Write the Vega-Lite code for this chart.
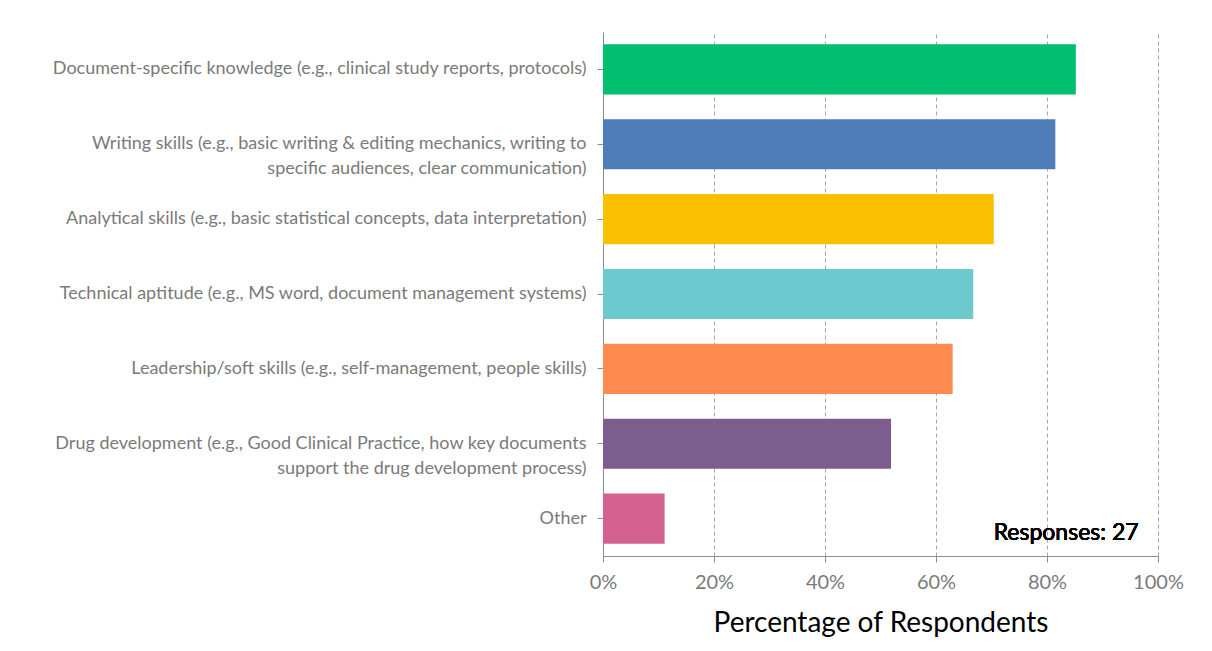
{
  "$schema": "https://vega.github.io/schema/vega-lite/v6.json",
  "autosize": {"type": "none"},
  "padding": {"left": 603, "top": 32, "right": 54, "bottom": 95},
  "width": 555,
  "height": 524,
  "background": "white",
  "config": {
    "font": "Lato",
    "view": {"stroke": null}
  },
  "data": {
    "values": [
      {"skill": "Document-specific knowledge (e.g., clinical study reports, protocols)", "pct": 0.852, "color": "#00BF6F"},
      {"skill": "Writing skills (e.g., basic writing & editing mechanics, writing to specific audiences, clear communication)", "pct": 0.815, "color": "#4F7DB7"},
      {"skill": "Analytical skills (e.g., basic statistical concepts, data interpretation)", "pct": 0.704, "color": "#F9BF00"},
      {"skill": "Technical aptitude (e.g., MS word, document management systems)", "pct": 0.667, "color": "#6CC9CD"},
      {"skill": "Leadership/soft skills (e.g., self-management, people skills)", "pct": 0.630, "color": "#FF8A50"},
      {"skill": "Drug development (e.g., Good Clinical Practice, how key documents support the drug development process)", "pct": 0.519, "color": "#7D5C8E"},
      {"skill": "Other", "pct": 0.111, "color": "#D4608E"}
    ]
  },
  "layer": [
    {
      "mark": {"type": "bar"},
      "encoding": {
        "y": {
          "field": "skill",
          "type": "nominal",
          "sort": null,
          "scale": {"paddingInner": 0.33, "paddingOuter": 0.165},
          "axis": {
            "title": null,
            "domainColor": "#8c8c8c",
            "tickColor": "#8c8c8c",
            "tickSize": 6,
            "labelColor": "#7a7a7a",
            "labelFontSize": 18,
            "labelLimit": 700,
            "labelLineHeight": 25,
            "labelPadding": 11,
            "labelAlign": "right",
            "labelExpr": "indexof(datum.value, 'Writing skills') == 0 ? ['Writing skills (e.g., basic writing & editing mechanics, writing to', 'specific audiences, clear communication)'] : indexof(datum.value, 'Drug development') == 0 ? ['Drug development (e.g., Good Clinical Practice, how key documents', 'support the drug development process)'] : datum.label"
          }
        },
        "x": {
          "field": "pct",
          "type": "quantitative",
          "scale": {"domain": [0, 1]},
          "axis": {
            "title": "Percentage of Respondents",
            "titleFontSize": 28,
            "titleFontWeight": "normal",
            "titleColor": "#000000",
            "titlePadding": 17,
            "values": [0, 0.2, 0.4, 0.6, 0.8, 1],
            "format": ".0%",
            "labelColor": "#7a7a7a",
            "labelFontSize": 20,
            "labelPadding": 10,
            "labelFlush": false,
            "domainColor": "#8c8c8c",
            "tickColor": "#8c8c8c",
            "tickSize": 6,
            "grid": true,
            "gridColor": "#a6a6a6",
            "gridDash": [4, 3],
            "gridWidth": 1
          }
        },
        "color": {"field": "color", "type": "nominal", "scale": null, "legend": null}
      }
    },
    {
      "mark": {"type": "text", "align": "right", "baseline": "middle", "fontSize": 23, "fill": "#000000", "dy": 14},
      "encoding": {
        "x": {"datum": 0.965},
        "y": {"datum": "Other"},
        "text": {"value": "Responses: 27"}
      }
    }
  ]
}
